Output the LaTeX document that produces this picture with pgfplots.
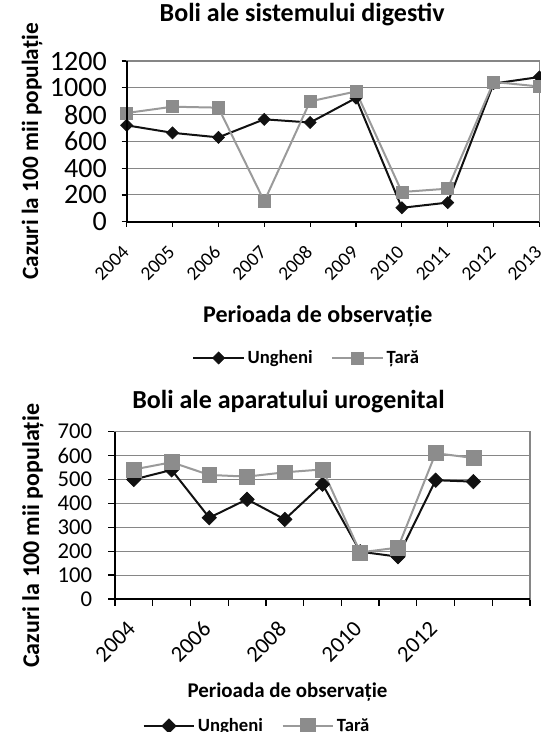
\documentclass[border=0pt]{standalone}
\usepackage{pgfplots}
\usepackage{pgfplotstable}
\pgfplotsset{compat=1.18}
\usepackage{fontspec}
\setmainfont{Carlito}
\definecolor{ser1}{HTML}{111111}
\definecolor{ser2}{HTML}{9A9A9A}
\definecolor{ser2m}{HTML}{8C8C8C}
\definecolor{gridc}{HTML}{868686}

\pgfplotstableread{
x Ungheni Tara
0 720 812
1 664 859
2 630 852
3 765 153
4 741 899
5 924 973
6 104 222
7 143 247
8 1032 1044
9 1081 1010
}\digestiv

\pgfplotstableread{
x Ungheni Tara
0 500 542
1 540 572
2 340 519
3 417 512
4 333 530
5 480 542
6 198 195
7 177 215
8 497 610
9 491 590
}\urogenital

\pgfplotsset{
 common/.style={
  scale only axis,
  axis line style={draw=gridc, line width=1pt},
  ymajorgrids, grid style={gridc, line width=0.75pt},
  tick style={black, line width=0.9pt},
  tick align=outside,
  xtick pos=bottom, ytick pos=left,
  major tick length=3.75pt,
  /pgf/number format/assume math mode=true,
  /pgf/number format/1000 sep={},
  legend style={draw=none, fill=none, legend columns=2,
    font=\fontsize{14}{16}\selectfont\bfseries,
    /tikz/every even column/.append style={column sep=12pt}},
  legend image code/.code={\draw[mark repeat=2,mark phase=2,##1] plot coordinates {(0pt,0pt) (19pt,0pt) (38pt,0pt)};},
  after end axis/.code={\draw[black, line width=1.5pt] (rel axis cs:0,1) -- (rel axis cs:0,0) -- (rel axis cs:1,0);},
 },
}

\begin{document}
\begin{tikzpicture}
% ---------- top chart ----------
\begin{axis}[common,
  at={(95.0pt,382.7pt)}, anchor=south west,
  width=309.6pt, height=120.5pt,
  xmin=0, xmax=9, ymin=0, ymax=1200,
  ytick={0,200,400,600,800,1000,1200},
  xtick={0,1,2,3,4,5,6,7,8,9},
  xticklabels={2004,2005,2006,2007,2008,2009,2010,2011,2012,2013},
  yticklabel style={font=\fontsize{21}{24}\selectfont, inner sep=0pt, xshift=-11pt},
  xticklabel style={font=\fontsize{14.5}{17}\selectfont, yshift=-16pt, rotate=45, anchor=east, inner sep=1pt},
  title={Boli ale sistemului digestiv},
  title style={at={(0.425,1.2396)}, anchor=center, yshift=0pt, font=\fontsize{19.5}{23}\selectfont\bfseries},
  ylabel={Cazuri la 100 mii populație},
  ylabel style={at={(-0.229,0.437)}, anchor=center, font=\fontsize{17.5}{21}\selectfont\bfseries},
  xlabel={Perioada de observație},
  xlabel style={at={(0.463,-0.587)}, anchor=center, font=\fontsize{18}{21}\selectfont\bfseries},
  legend style={at={(0.437,-0.848)}, anchor=center},
]
\addplot[ser1, line width=1.5pt, mark=square*, mark size=3.2pt, mark options={rotate=45, solid, fill=ser1, line width=0.5pt}] table[x=x, y=Ungheni] {\digestiv};
\addlegendentry{Ungheni}
\addplot[ser2, line width=1.5pt, mark=square*, mark size=4.5pt, mark options={solid, fill=ser2m, draw=ser2m, line width=0.5pt}] table[x=x, y=Tara] {\digestiv};
\addlegendentry{Țară}
\end{axis}

% ---------- bottom chart ----------
\begin{axis}[common,
  at={(86.25pt,99.75pt)}, anchor=south west,
  width=311.25pt, height=125.5pt,
  xmin=-0.5, xmax=10.5, ymin=0, ymax=700,
  ytick={0,100,200,300,400,500,600,700},
  xtick={-0.5,0.5,1.5,2.5,3.5,4.5,5.5,6.5,7.5,8.5,9.5,10.5},
  xticklabels={},
  major tick length=5pt,
  extra x ticks={0,2,4,6,8},
  extra x tick labels={2004,2006,2008,2010,2012},
  extra x tick style={major tick length=0pt},
  yticklabel style={font=\fontsize{17}{20}\selectfont, inner sep=0pt, xshift=-12pt},
  xticklabel style={font=\fontsize{17}{20}\selectfont, yshift=-19pt, xshift=-1pt, rotate=45, anchor=east, inner sep=1pt},
  title={Boli ale aparatului urogenital},
  title style={at={(0.418,1.13)}, anchor=center, yshift=0pt, font=\fontsize{19.5}{23}\selectfont\bfseries},
  ylabel={Cazuri la 100 mii populație},
  ylabel style={at={(-0.198,0.377)}, anchor=center, font=\fontsize{18}{21}\selectfont\bfseries},
  xlabel={Perioada de observație},
  xlabel style={at={(0.4157,-0.559)}, anchor=center, font=\fontsize{15.7}{19}\selectfont\bfseries},
  legend style={at={(0.343,-0.759)}, anchor=center},
]
\addplot[ser1, line width=1.5pt, mark=square*, mark size=3.8pt, mark options={rotate=45, solid, fill=ser1, line width=0.5pt}] table[x=x, y=Ungheni] {\urogenital};
\addlegendentry{Ungheni}
\addplot[ser2, line width=1.5pt, mark=square*, mark size=5.6pt, mark options={solid, fill=ser2m, draw=ser2m, line width=0.5pt}] table[x=x, y=Tara] {\urogenital};
\addlegendentry{Țară}
\end{axis}

\pgfresetboundingbox
\useasboundingbox (0,0) rectangle (405pt,549pt);
\end{tikzpicture}
\end{document}
